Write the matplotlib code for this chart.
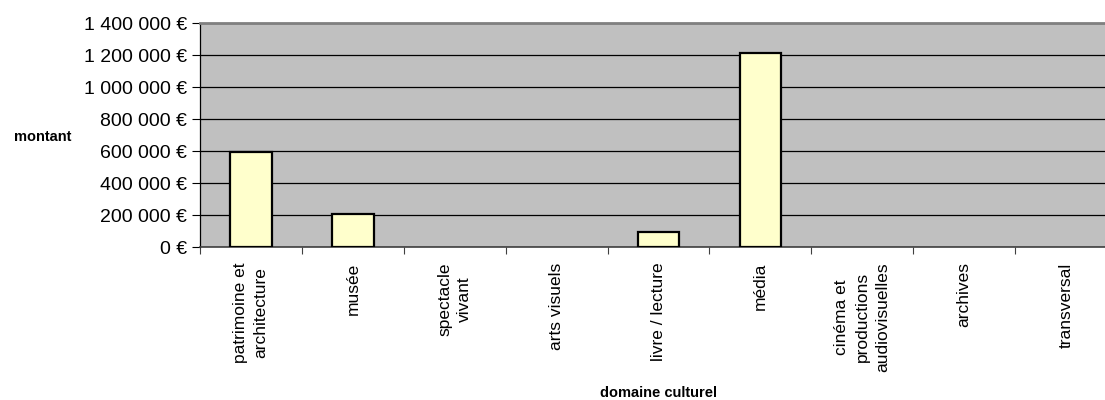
import numpy as np
import matplotlib
matplotlib.use('Agg')
import matplotlib.pyplot as plt
from matplotlib.ticker import FuncFormatter, MultipleLocator

# données
domaines = ['patrimoine et\narchitecture', 'musée', 'spectacle\nvivant', 'arts visuels',
            'livre / lecture', 'média', 'cinéma et\nproductions\naudiovisuelles',
            'archives', 'transversal']
montants = [594000, 208000, 0, 0, 95000, 1214000, 0, 0, 0]

plt.rcParams['font.family'] = ['Liberation Sans', 'DejaVu Sans']

fig = plt.figure(figsize=(11.05, 4.0), dpi=100)
# zone de tracé (dépasse légèrement à droite comme l'original)
ax = fig.add_axes([200 / 1105, 1 - 247 / 400, 917 / 1105, 224 / 400])
ax.set_facecolor('#C0C0C0')

x = np.arange(len(domaines))
# pas de contour pour les barres nulles
lw = [1.6 if m > 0 else 0 for m in montants]
ax.bar(x, montants, width=0.41, color='#FFFFCC', edgecolor='black', linewidth=lw, zorder=3)

ax.set_xlim(-0.5, len(domaines) - 0.5)
ax.set_ylim(0, 1400000)
ax.yaxis.set_major_locator(MultipleLocator(200000))


def euro(v, pos):
    return f"{int(v):,} €".replace(',', ' ')


ax.yaxis.set_major_formatter(FuncFormatter(euro))
ax.yaxis.grid(True, color='black', linewidth=0.9, zorder=1)
ax.set_axisbelow(True)

# ticks aux frontières des catégories, étiquettes au centre
ax.set_xticks(x)
ax.set_xticklabels(domaines, rotation=90, va='top', ha='center', multialignment='center',
                   fontsize=12.5, linespacing=1.45)
ax.set_xticks(np.arange(-0.5, len(domaines)), minor=True)
ax.tick_params(axis='x', which='major', length=0, pad=11)
ax.tick_params(axis='x', which='minor', length=5, width=0.8, color='#404040')
ax.tick_params(axis='y', length=6, width=0.8, pad=3.5, labelsize=14)

for side in ['top', 'right']:
    ax.spines[side].set_color('#808080')
    ax.spines[side].set_linewidth(2)
ax.spines['left'].set_color('black')
ax.spines['left'].set_linewidth(0.9)
ax.spines['bottom'].set_color('#404040')
ax.spines['bottom'].set_linewidth(1.2)

ax.set_ylabel('montant', rotation=0, fontsize=10.5, fontweight='bold', ha='center', va='center')
ax.yaxis.set_label_coords(-0.172, 0.49)
ax.set_xlabel('domaine culturel', fontsize=10.5, fontweight='bold', ha='center', va='center')
ax.xaxis.set_label_coords(0.5, -0.65)

plt.savefig('out.png', dpi=100)
plt.close(fig)
